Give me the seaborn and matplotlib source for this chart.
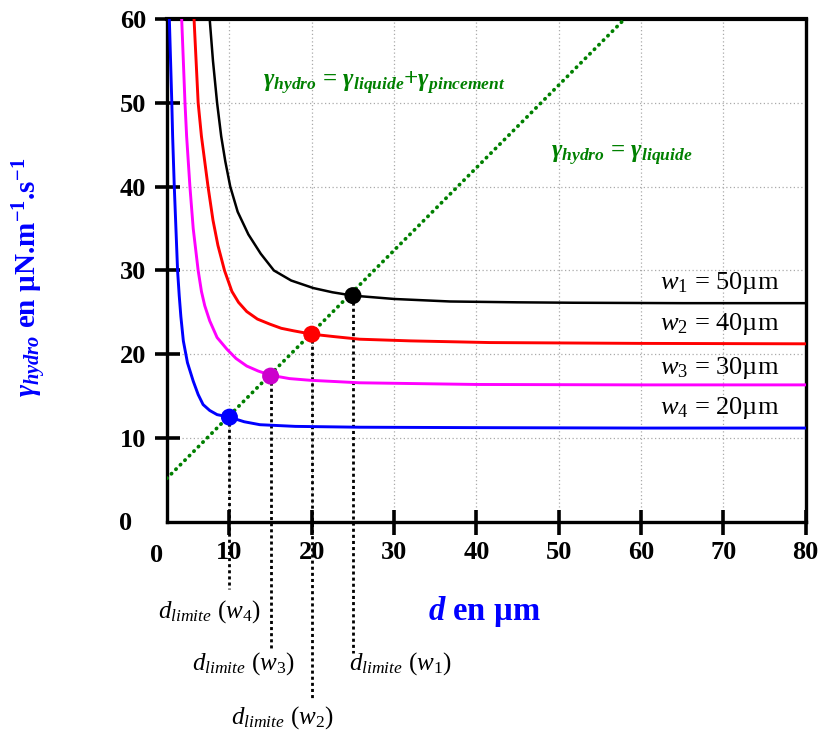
import numpy as np
import pandas as pd
import matplotlib
matplotlib.use("Agg")
import matplotlib.pyplot as plt
import seaborn as sns

# -------------------------------
# data
# -------------------------------
d_w1 = [7.6, 8.0, 8.5, 9.0, 9.5, 10.1, 11.0, 12.3, 13.8, 15.4, 17.5, 20.2,
        22.5, 25.0, 30.0, 36.8, 45.0, 51.7, 65.0, 80.0]
y_w1 = [60.0, 55.0, 50.0, 46.0, 43.0, 40.0, 37.0, 34.3, 32.0, 30.0, 28.8, 27.9,
        27.4, 27.0, 26.6, 26.3, 26.2, 26.15, 26.1, 26.1]

d_w2 = [5.7, 5.95, 6.2, 6.6, 7.0, 7.4, 8.0, 8.6, 9.4, 10.3, 11.1, 12.1, 13.4,
        14.9, 16.3, 17.8, 20.0, 22.8, 25.8, 32.0, 41.6, 60.0, 80.0]
y_w2 = [60.0, 55.0, 50.0, 46.0, 43.0, 40.0, 36.0, 33.0, 30.0, 27.5, 26.2, 25.1, 24.2,
        23.6, 23.1, 22.8, 22.4, 22.1, 21.8, 21.6, 21.4, 21.3, 21.25]

d_w3 = [4.2, 4.4, 4.6, 4.8, 5.0, 5.2, 5.6, 6.2, 6.6, 7.0, 7.6, 8.5, 9.7, 10.8,
        12.1, 13.5, 15.0, 17.3, 19.8, 25.8, 40.0, 60.0, 80.0]
y_w3 = [60.0, 55.0, 50.0, 46.0, 43.0, 40.0, 35.0, 30.0, 27.5, 25.8, 24.0, 22.0, 20.6, 19.5,
        18.6, 18.0, 17.5, 17.1, 16.9, 16.6, 16.4, 16.35, 16.35]

d_w4 = [2.7, 2.85, 3.0, 3.1, 3.2, 3.3, 3.5, 3.7, 3.9, 4.1, 4.4, 4.9, 5.6, 6.2,
        6.8, 7.6, 8.5, 10.0, 11.8, 13.7, 18.0, 25.8, 40.0, 60.0, 80.0]
y_w4 = [60.0, 55.0, 50.0, 46.0, 43.0, 40.0, 35.0, 30.0, 27.0, 24.5, 21.6, 19.0, 16.8, 15.2,
        14.0, 13.3, 12.8, 12.5, 11.95, 11.6, 11.4, 11.3, 11.25, 11.2, 11.2]

# intersection points (w4, w3, w2, w1)
d_lim = [10.0, 15.0, 20.0, 25.0]
y_lim = [12.5, 17.4, 22.4, 27.0]
drop_to = [-8.0, -15.0, -21.2, -15.6]

# gamma_hydro = gamma_liquide line
line_d = [2.4, 58.0]
line_y = [5.2, 60.0]

curve_labels = [r"$w_1$ = 50µm", r"$w_2$ = 40µm", r"$w_3$ = 30µm", r"$w_4$ = 20µm"]
x_ticks = [10, 20, 30, 40, 50, 60, 70, 80]
y_ticks = [10, 20, 30, 40, 50, 60]

# -------------------------------
# style
# -------------------------------
sns.set_style("white")
plt.rcParams['font.family'] = ['Liberation Serif', 'DejaVu Serif']
plt.rcParams['text.color'] = 'black'
plt.rcParams['mathtext.fontset'] = 'custom'
plt.rcParams['mathtext.rm'] = 'Liberation Serif'
plt.rcParams['mathtext.it'] = 'Liberation Serif:italic'
plt.rcParams['mathtext.bf'] = 'Liberation Serif:bold'
plt.rcParams['mathtext.bfit'] = 'Liberation Serif:bold:italic'

fig = plt.figure(figsize=(8.18, 7.31), dpi=100)
ax = fig.add_axes([0.204, 0.286, 0.781, 0.688])

green = "#008000"

# grid
for x in x_ticks[:-1]:
    ax.axvline(x, color="#aaaaaa", lw=0.9, ls=(0, (1, 2)), zorder=0)
for y in y_ticks[:-1]:
    ax.axhline(y, color="#aaaaaa", lw=0.9, ls=(0, (1, 2)), zorder=0)

# curves
curves = [(d_w1, y_w1, "black", 1.8), (d_w2, y_w2, "red", 2.1),
          (d_w3, y_w3, "#ff00ff", 2.1), (d_w4, y_w4, "blue", 2.1)]
for dd, yy, c, lw in curves:
    sns.lineplot(x=dd, y=yy, color=c, lw=lw, ax=ax, sort=False, zorder=3)

# green dotted line
ax.plot(line_d, line_y, color=green, lw=2.7, ls=(0, (0.1, 1.6)),
        dash_capstyle="round", zorder=4)

# drop lines
for d, y, b in zip(d_lim, y_lim, drop_to):
    ax.plot([d, d], [y, b], color="black", lw=2.0, ls=(0, (1.1, 1.1)),
            clip_on=False, zorder=2)

# dots
dots = pd.DataFrame({"d": d_lim, "y": y_lim, "w": ["w4", "w3", "w2", "w1"]})
sns.scatterplot(data=dots, x="d", y="y", hue="w",
                palette={"w4": "blue", "w3": "#cc00cc", "w2": "red", "w1": "black"},
                s=150, edgecolor="none", legend=False, ax=ax, zorder=6)

ax.set_xlim(2.4, 80)
ax.set_ylim(0, 60)
ax.set_xticks(x_ticks)
ax.set_yticks(y_ticks)
ax.tick_params(axis="both", direction="inout", length=18, width=2.6,
               labelsize=19, colors="black", bottom=True, left=True)
ax.tick_params(axis="x", pad=5)
ax.tick_params(axis="y", pad=6)
for lab in ax.get_xticklabels() + ax.get_yticklabels():
    lab.set_fontweight("bold")
for sp in ax.spines.values():
    sp.set_linewidth(2.4)
    sp.set_color("black")
ax.spines["top"].set_linewidth(3)
ax.set_xlabel("")
ax.set_ylabel("")

# "0" labels at the origin
ax.text(1.2, -2.6, "0", ha="center", va="top", fontsize=19,
        fontweight="bold", clip_on=False)
ax.text(-2.6, -0.2, "0", ha="center", va="center", fontsize=19,
        fontweight="bold", clip_on=False)

# curve labels
for lab, y in zip(curve_labels, [28.5, 23.6, 18.4, 13.6]):
    ax.text(76.8, y, lab, ha="right", va="center", fontsize=19)

# d_limite labels
lim_pos = [(7.6, -10.7, 4), (11.65, -16.9, 3), (16.4, -23.4, 2), (30.8, -16.9, 1)]
for x, y, k in lim_pos:
    ax.text(x, y, r"$d_{limite}$ ($w_%d$)" % k, ha="center", va="center",
            fontsize=18, clip_on=False)

# green equations
ax.text(28.8, 52.3, r"$\mathbfit{\gamma_{hydro}}$ = $\mathbfit{\gamma_{liquide}}$+$\mathbfit{\gamma_{pincement}}$",
        color=green, ha="center", va="center", fontsize=18, fontweight="bold")
ax.text(57.6, 43.7, r"$\mathbfit{\gamma_{hydro}}$ = $\mathbfit{\gamma_{liquide}}$",
        color=green, ha="center", va="center", fontsize=18, fontweight="bold")

# axis titles
ax.text(41.0, -10.7, r"$\mathbfit{d}$ en µm", color="blue", ha="center",
        va="center", fontsize=23.5, fontweight="bold", clip_on=False)
fig.text(30 / 818, 1 - 277 / 731,
         r"$\mathbfit{\gamma_{hydro}}$ en µN.m$^{\mathbf{-1}}$.s$^{\mathbf{-1}}$",
         color="blue", rotation=90, ha="center", va="center", fontsize=21,
         fontweight="bold")

fig.savefig("out.png", dpi=100)
